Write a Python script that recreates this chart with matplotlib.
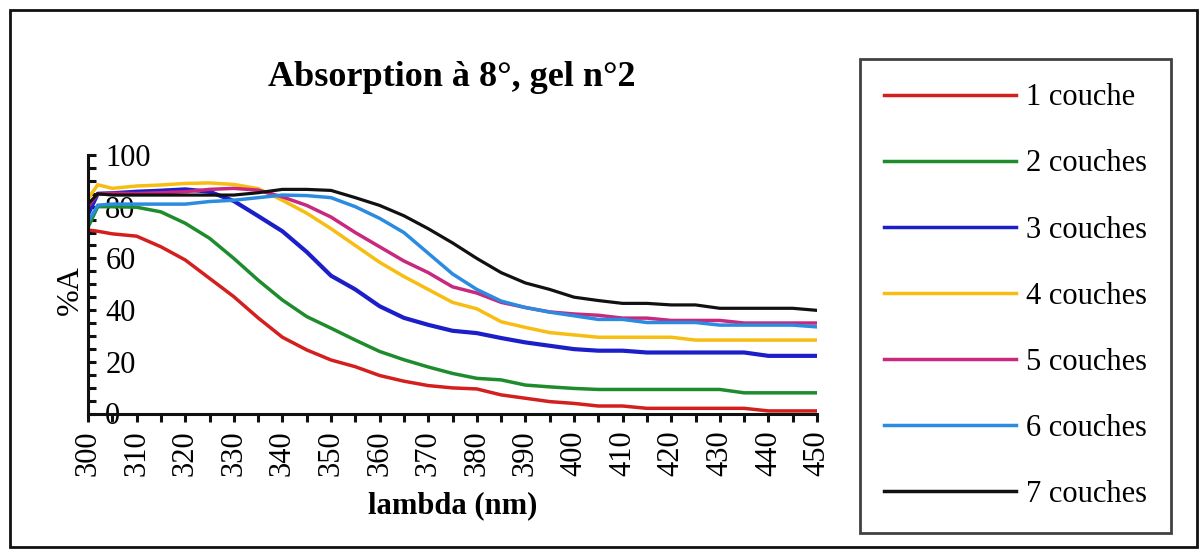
import matplotlib
matplotlib.use("Agg")
import matplotlib.pyplot as plt
from matplotlib.patches import Rectangle
from matplotlib.ticker import MultipleLocator

plt.rcParams['font.family'] = ['Liberation Serif', 'DejaVu Serif']

wavelength = [300, 302, 305, 310, 315, 320, 325, 330, 335, 340, 345, 350, 355, 360,
              365, 370, 375, 380, 385, 390, 395, 400, 405, 410, 415, 420, 425, 430,
              435, 440, 445, 450]

c1 = [71, 70.5, 69.5, 68.6, 64.5, 59.4, 52.3, 45.2, 37, 29.5, 24.6, 20.7, 18.1, 14.7,
      12.5, 10.8, 9.9, 9.5, 7.2, 5.9, 4.6, 3.9, 2.9, 2.9, 2, 2, 2, 2, 2, 1, 1, 1]
c2 = [72, 80, 80, 79.8, 78, 73.6, 67.8, 60, 51.6, 43.9, 37.5, 33, 28.4, 24, 20.8,
      18, 15.5, 13.6, 13, 11, 10.3, 9.7, 9.3, 9.3, 9.3, 9.3, 9.3, 9.3, 8, 8, 8, 8]
c3 = [77, 85, 85.2, 85.8, 86.2, 86.7, 85.8, 82.2, 76.4, 70.5, 62.5, 53.3, 48, 41.5,
      37, 34.3, 32, 31.1, 29.2, 27.5, 26.2, 24.9, 24.3, 24.3, 23.6, 23.6, 23.6, 23.6,
      23.6, 22.3, 22.3, 22.3]
c4 = [83, 88.5, 87.1, 88, 88.4, 89, 89.2, 88.6, 87, 82.5, 77.5, 71.5, 65, 58.5, 53,
      48, 43, 40.5, 35.5, 33.3, 31.3, 30.4, 29.5, 29.5, 29.5, 29.5, 28.4, 28.4, 28.4,
      28.4, 28.4, 28.4]
c5 = [80, 85, 85.2, 85.1, 85.4, 85.8, 86.7, 87.1, 86.4, 83.8, 80.5, 76, 70, 64.5,
      59, 54.5, 49, 46.6, 43, 41, 39.3, 38.5, 38, 36.9, 36.9, 36, 36, 36, 35, 35, 35, 35]
c6 = [74, 80.6, 81, 81, 81, 81, 82, 82.5, 83.5, 84.5, 84.3, 83.5, 80, 75.5, 70, 62,
      54, 48, 43.5, 41, 39.2, 37.8, 36.4, 36.4, 35.2, 35.2, 35.2, 34.2, 34.2, 34.2,
      34.2, 33.5]
c7 = [81, 85, 84.5, 84.5, 84.5, 84.5, 84.5, 84.5, 85.4, 86.7, 86.7, 86.3, 83.5,
      80.5, 76.5, 71.5, 66, 60, 54.5, 50.5, 48, 45, 43.7, 42.6, 42.6, 42, 42, 40.7,
      40.7, 40.7, 40.7, 39.9]

series = [c1, c2, c3, c4, c5, c6, c7]
labels = ["1 couche", "2 couches", "3 couches", "4 couches", "5 couches",
          "6 couches", "7 couches"]
colors = ["#d41f1f", "#1e8c2c", "#1c1ec8", "#f7bd12", "#c8287e", "#2b8be0", "#111111"]
widths = [2.5, 2.5, 3.0, 2.5, 2.5, 2.5, 2.3]

x_ticks_lab = list(range(300, 451, 10))
y_ticks_lab = [0, 20, 40, 60, 80, 100]

W, H = 1203, 551
fig = plt.figure(figsize=(W / 100, H / 100), dpi=100)
ax = fig.add_axes([88 / W, 1 - 413.5 / H, (817 - 88) / W, (413.5 - 155) / H])

for y, lab, col, lw in zip(series, labels, colors, widths):
    ax.plot(wavelength, y, color=col, lw=lw, label=lab, solid_joinstyle='round')

ax.set_xlim(300, 450)
ax.set_ylim(0, 100)
ax.spines['top'].set_visible(False)
ax.spines['right'].set_visible(False)
for s in ('left', 'bottom'):
    ax.spines[s].set_linewidth(2.2)
    ax.spines[s].set_color('#111111')

ax.set_xticks(x_ticks_lab)
ax.set_xticklabels([str(v) for v in x_ticks_lab], rotation=90, fontsize=22)
ax.xaxis.set_minor_locator(MultipleLocator(5))
ax.tick_params(axis='x', which='both', direction='out', length=6, width=2.2,
               color='#111111', pad=6)

ax.set_yticks(y_ticks_lab)
ax.set_yticklabels([str(v) for v in y_ticks_lab], fontsize=22)
ax.yaxis.set_minor_locator(MultipleLocator(5))
ax.tick_params(axis='y', which='both', direction='in', length=6, width=2.2,
               color='#111111')
ax.tick_params(axis='y', which='major', pad=-12.5)
for t in ax.get_yticklabels():
    t.set_horizontalalignment('left')

ax.set_xlabel("lambda (nm)", fontsize=22, fontweight='bold', labelpad=11)
fig.text(70 / W, 1 - 290 / H, "%A", rotation=90, fontsize=23, ha='center', va='center')
fig.text(452 / W, 1 - 77 / H, "Absorption à 8°, gel n°2", fontsize=26,
         fontweight='bold', ha='center', va='center')

leg = fig.legend(loc='upper left', bbox_to_anchor=(860 / W, 1 - 59 / H),
                 fontsize=22, frameon=True, fancybox=False, handlelength=4.3,
                 handletextpad=0.33, labelspacing=1.212, borderpad=0.8,
                 borderaxespad=0)
leg.get_frame().set_edgecolor('#111111')
leg.get_frame().set_linewidth(2.0)
for lh in leg.get_lines():
    lh.set_linewidth(2.5)

fig.patches.append(Rectangle((10 / W, 4 / H), (W - 16) / W, (H - 14) / H,
                             transform=fig.transFigure, fill=False,
                             edgecolor='#111111', lw=2.0))

fig.savefig("out.png", dpi=100)
